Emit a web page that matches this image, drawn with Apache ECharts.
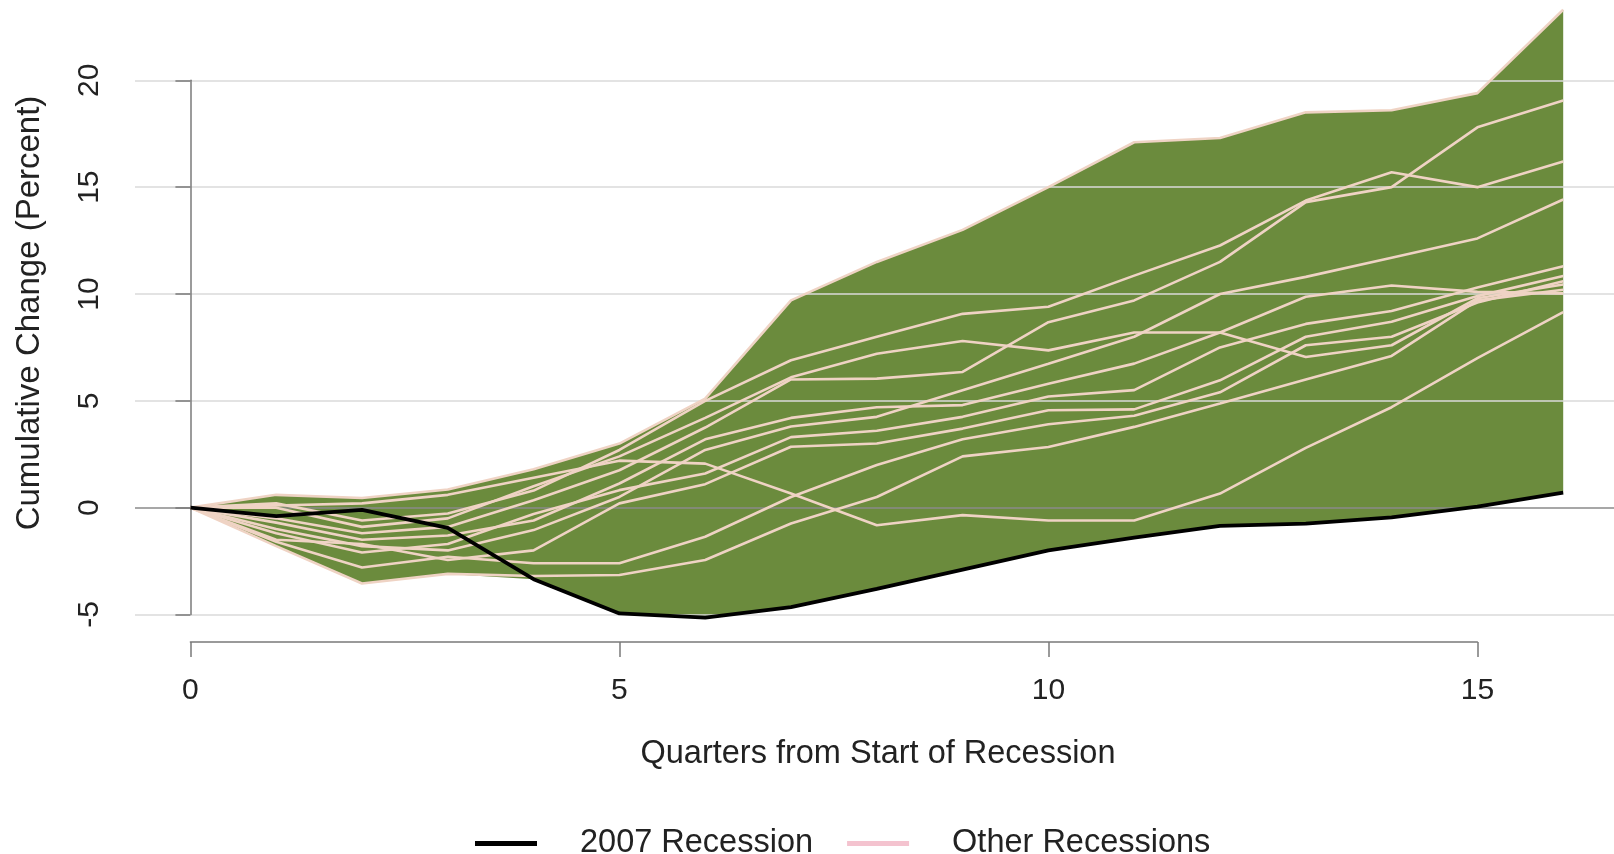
<!DOCTYPE html>
<html>
<head>
<meta charset="utf-8">
<script src="https://cdn.jsdelivr.net/npm/echarts@6/dist/echarts.min.js"></script>
<style>
  html, body { margin: 0; padding: 0; background: #ffffff; }
  #chart { width: 1614px; height: 854px; }
</style>
</head>
<body>
<div id="chart"></div>
<script>
// Quarters since the start of each recession
const quarters = [0, 1, 2, 3, 4, 5, 6, 7, 8, 9, 10, 11, 12, 13, 14, 15, 16];
const xTicks = [0, 5, 10, 15];
const yTicks = [-5, 0, 5, 10, 15, 20];

// Cumulative change (percent) in the 2007 recession
const recession2007 = [0, -0.4, -0.1, -0.95, -3.35, -4.95, -5.15, -4.65, -3.8, -2.9, -2.0, -1.4, -0.85, -0.75, -0.45, 0.05, 0.7];

// Cumulative change (percent) in the earlier recessions
const other1  = [0, 0.6, 0.45, 0.85, 1.8, 3.0, 5.1, 9.7, 11.5, 13.0, 15.0, 17.1, 17.3, 18.5, 18.6, 19.4, 23.3];
const other2  = [0, 0.2, -0.6, -0.27, 0.8, 2.7, 5.0, 6.9, 8.0, 9.07, 9.4, 10.86, 12.27, 14.37, 15.7, 15.0, 16.2];
const other3  = [0, 0.0, -0.9, -0.5, 1.0, 2.4, 4.2, 6.1, 7.2, 7.8, 7.36, 8.2, 8.2, 7.05, 7.6, 9.8, 10.44];
const other4  = [0, -0.5, -1.2, -0.9, 0.35, 1.75, 3.75, 6.0, 6.04, 6.35, 8.68, 9.7, 11.5, 14.3, 15.0, 17.8, 19.06];
const other5  = [0, -1.0, -1.8, -2.0, -1.05, 0.5, 2.7, 3.8, 4.25, 5.5, 6.74, 8.0, 10.0, 10.8, 11.7, 12.6, 14.42];
const other6  = [0, -0.7, -1.5, -1.3, -0.6, 1.13, 3.2, 4.2, 4.7, 4.8, 5.8, 6.74, 8.2, 9.87, 10.4, 10.1, 10.03];
const other7  = [0, -1.2, -2.1, -1.7, -0.3, 0.82, 1.6, 3.3, 3.6, 4.25, 5.2, 5.5, 7.5, 8.6, 9.2, 10.3, 11.3];
const other8  = [0, -1.5, -1.7, -2.45, -2.0, 0.2, 1.1, 2.85, 3.0, 3.7, 4.56, 4.6, 5.96, 8.0, 8.7, 9.9, 10.84];
const other9  = [0, -1.6, -2.8, -2.3, -2.6, -2.6, -1.36, 0.5, 2.0, 3.2, 3.9, 4.3, 5.4, 7.6, 8.0, 9.6, 10.6];
const other10 = [0, -1.8, -3.55, -3.1, -3.2, -3.15, -2.45, -0.74, 0.5, 2.4, 2.84, 3.78, 4.87, 6.0, 7.1, 9.7, 10.2];
const other11 = [0, 0.1, 0.2, 0.6, 1.4, 2.2, 2.06, 0.66, -0.82, -0.35, -0.6, -0.6, 0.66, 2.8, 4.7, 7.0, 9.15];

const otherRecessions = [other1, other2, other3, other4, other5, other6, other7, other8, other9, other10, other11];

const FONT = '"Liberation Sans", Arial, Helvetica, sans-serif';
const TEXT = '#222222';
const BAND = '#6B8B3D';
const PINK_LINE = '#EFD3C4';
const PINK_KEY = '#F4C3CF';

// Range spanned by all recessions at each quarter
const allSeries = otherRecessions.concat([recession2007]);
const lower = quarters.map((q, i) => Math.min(...allSeries.map(s => s[i])));
const upper = quarters.map((q, i) => Math.max(...allSeries.map(s => s[i])));

const pair = arr => quarters.map((q, i) => [q, arr[i]]);

const series = [
  {
    // shaded envelope between the lowest and highest path
    name: 'band', type: 'custom', coordinateSystem: 'cartesian2d',
    xAxisIndex: 0, yAxisIndex: 0,
    data: quarters.map((q, i) => [q, lower[i], upper[i]]),
    encode: { x: 0, y: [1, 2] },
    renderItem: function (params, api) {
      if (params.dataIndex !== 0) return null;
      const top = [];
      const bottom = [];
      for (let i = 0; i < quarters.length; i++) {
        top.push(api.coord([quarters[i], upper[i]]));
        bottom.push(api.coord([quarters[i], lower[i]]));
      }
      return {
        type: 'polygon',
        shape: { points: top.concat(bottom.reverse()) },
        style: { fill: BAND, stroke: null }
      };
    },
    clip: false, silent: true, z: 1
  }
];

otherRecessions.forEach(arr => {
  series.push({
    name: 'Other Recessions', type: 'line', data: pair(arr), symbol: 'none', showSymbol: false,
    lineStyle: { color: PINK_LINE, width: 2.6 }, itemStyle: { color: PINK_KEY },
    clip: false, z: 3, silent: true
  });
});

series.push({
  name: '2007 Recession', type: 'line', data: pair(recession2007), symbol: 'none', showSymbol: false,
  lineStyle: { color: '#000000', width: 3.8 }, itemStyle: { color: '#000000' },
  clip: false, z: 4, silent: true
});

// Pixel layout of the plotting region
const plotLeft = 190.4, pxPerQuarter = 85.8, axisX = 135, chartW = 1614;
const xMin = -(plotLeft - axisX) / pxPerQuarter;
const xMax = (chartW - plotLeft) / pxPerQuarter;

const gridColors = yTicks.map(t => (t === 0 ? '#8a8a8a' : '#dadada'));

const chart = echarts.init(document.getElementById('chart'), null, { renderer: 'canvas' });
chart.setOption({
  animation: false,
  backgroundColor: '#ffffff',
  textStyle: { fontFamily: FONT },
  grid: [
    { left: axisX, right: 0, top: 80.3, bottom: 239.5, containLabel: false },
    { left: plotLeft, width: pxPerQuarter * 15, top: 641, height: 1, containLabel: false }
  ],
  xAxis: [
    {
      type: 'value', gridIndex: 0, min: xMin, max: xMax,
      axisLine: { show: false }, axisTick: { show: false },
      axisLabel: { show: false }, splitLine: { show: false }
    },
    {
      type: 'value', gridIndex: 1, min: xTicks[0], max: xTicks[xTicks.length - 1], interval: 5,
      position: 'bottom',
      axisLine: { show: true, lineStyle: { color: '#7a7a7a', width: 1.5 } },
      axisTick: { show: true, inside: false, length: 15, lineStyle: { color: '#7a7a7a', width: 1.5 } },
      axisLabel: { show: true, margin: 34, fontSize: 30, color: TEXT, fontFamily: FONT },
      splitLine: { show: false }
    }
  ],
  yAxis: [
    {
      type: 'value', gridIndex: 0, min: yTicks[0], max: yTicks[yTicks.length - 1], interval: 5,
      z: 2,
      axisLine: { show: true, lineStyle: { color: '#7a7a7a', width: 1.5 } },
      axisTick: { show: true, inside: false, length: 15, lineStyle: { color: '#7a7a7a', width: 1.5 } },
      axisLabel: { show: true, rotate: 90, margin: 30, fontSize: 30, color: TEXT, fontFamily: FONT },
      splitLine: { show: true, lineStyle: { color: gridColors, width: 1.5 } }
    },
    {
      type: 'value', gridIndex: 1, min: 0, max: 1,
      axisLine: { show: false }, axisTick: { show: false },
      axisLabel: { show: false }, splitLine: { show: false }
    }
  ],
  legend: {
    data: [
      { name: '2007 Recession', icon: 'rect', itemStyle: { color: '#000000' } },
      { name: 'Other Recessions', icon: 'rect', itemStyle: { color: PINK_KEY } }
    ],
    left: 470, top: 822, orient: 'horizontal',
    itemWidth: 62, itemHeight: 5, itemGap: 34,
    selectedMode: false,
    textStyle: { fontSize: 32.5, color: TEXT, fontFamily: FONT, padding: [0, 0, 0, 38], lineHeight: 33 }
  },
  graphic: [
    {
      type: 'text', x: 878, y: 754, silent: true,
      style: {
        text: 'Quarters from Start of Recession', font: '32.5px ' + FONT, fill: TEXT,
        textAlign: 'center', textVerticalAlign: 'middle', align: 'center', verticalAlign: 'middle'
      }
    },
    {
      type: 'text', x: 30, y: 313, rotation: Math.PI / 2, silent: true,
      style: {
        text: 'Cumulative Change (Percent)', font: '33px ' + FONT, fill: TEXT,
        textAlign: 'center', textVerticalAlign: 'middle', align: 'center', verticalAlign: 'middle'
      }
    }
  ],
  series: series
});
</script>
</body>
</html>
